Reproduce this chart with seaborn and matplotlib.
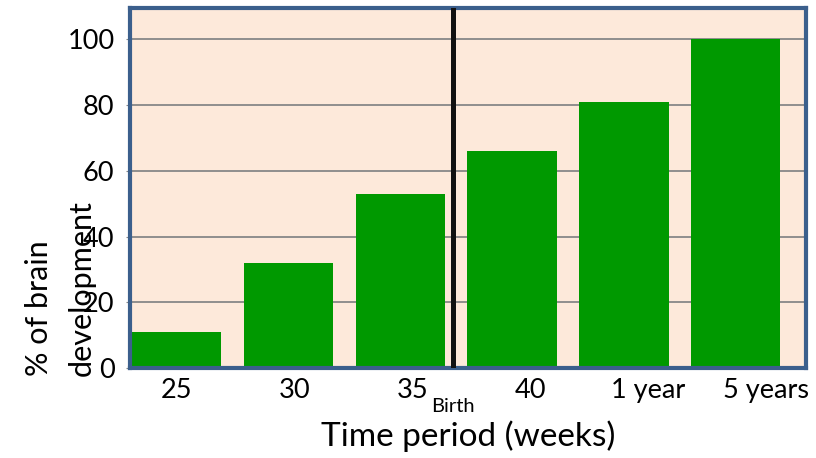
import matplotlib
matplotlib.use('Agg')
import matplotlib.pyplot as plt
import numpy as np
import pandas as pd
import seaborn as sns

# brain development by time period
periods = ['25', '30', '35', '40', '1 year', '5 years']
development = [11, 32, 53, 66, 81, 100]
y_ticks = [0, 20, 40, 60, 80, 100]
birth_pos = 2.47  # between 35 and 40 weeks

sns.set_style('white', {'text.color': 'black', 'xtick.color': 'black',
                        'ytick.color': 'black', 'axes.labelcolor': 'black'})
plt.rcParams['font.family'] = ['Lato', 'DejaVu Sans']

df = pd.DataFrame({'Period': periods, 'Development': development})

fig = plt.figure(figsize=(8.16, 4.58), dpi=100)
ax = fig.add_axes([0.159, 0.1965, 0.829, 0.786])
ax.set_facecolor('#FDE9DA')

sns.barplot(x='Period', y='Development', data=df, color='#009900',
            saturation=1, width=0.8, linewidth=0, ax=ax, zorder=3)

ax.set_ylim(0, 109.5)
ax.set_xlim(-0.42, 5.63)
ax.set_yticks(y_ticks)
# category labels sit a little right of the bars, as in the original slide
ax.set_xticks(np.arange(len(periods)) * 1.054)
ax.set_xticklabels(periods)
ax.yaxis.grid(True, color='#878787', linewidth=1.3, zorder=1)
ax.set_axisbelow(True)
ax.tick_params(axis='y', labelsize=19.5, length=3, color='#878787', pad=8,
               left=True, labelcolor='black')
ax.tick_params(axis='x', labelsize=19.5, length=0, pad=7, labelcolor='black')

for sp in ax.spines.values():
    sp.set_color('#3B5F8C')
    sp.set_linewidth(3)
    sp.set_zorder(4)

# birth marker
ax.axvline(birth_pos, color='#111111', linewidth=3.6, zorder=5)
ax.text(birth_pos, -0.108, 'Birth', transform=ax.get_xaxis_transform(),
        ha='center', va='center', fontsize=14.5, color='black')

ax.set_xlabel('Time period (weeks)', fontsize=24, labelpad=13, color='black')
ax.set_ylabel('')
fig.text(0.074, 0.18, '% of brain\ndevelopment', rotation=90,
         ha='center', va='bottom', multialignment='left', fontsize=22,
         linespacing=1.65, color='black')

fig.savefig('out.png', dpi=100)
